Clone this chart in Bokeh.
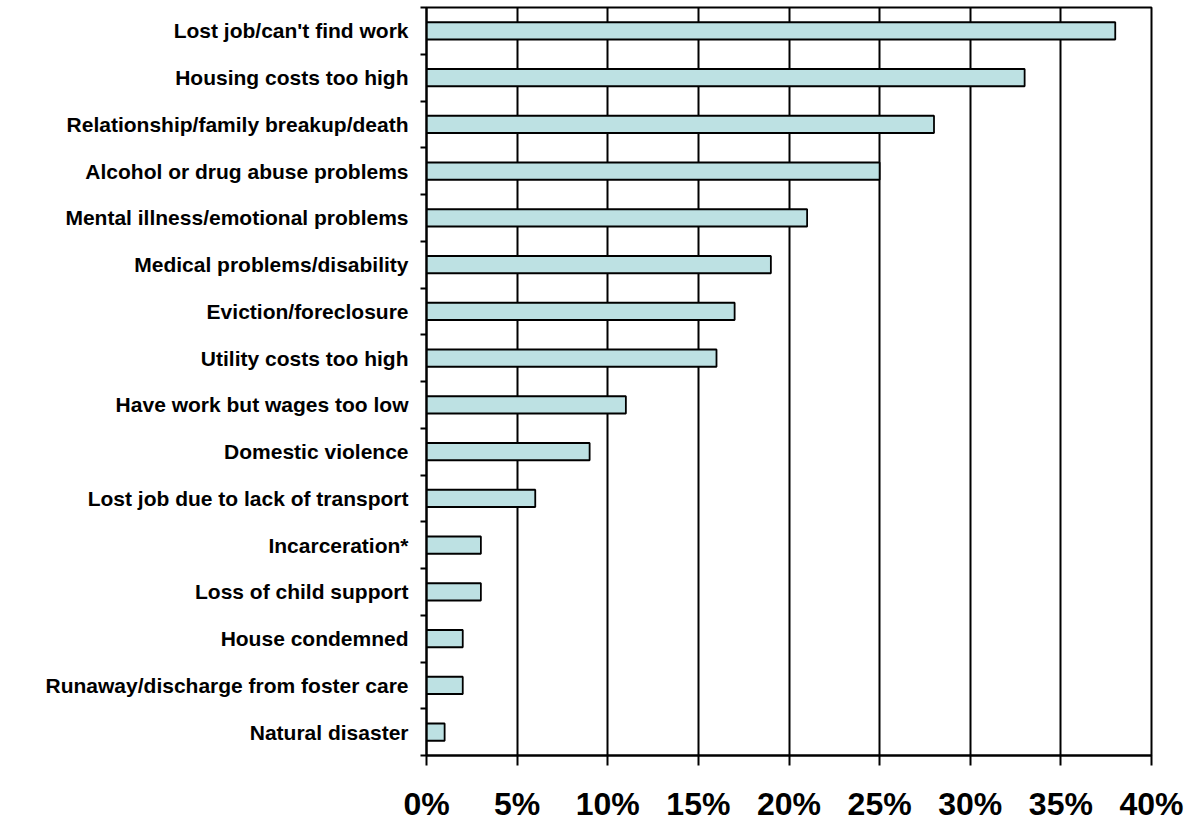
from bokeh.plotting import figure
from bokeh.models import FixedTicker, Range1d, ColumnDataSource
from bokeh.embed import file_html
from bokeh.resources import INLINE

categories = [
    "Lost job/can't find work",
    "Housing costs too high",
    "Relationship/family breakup/death",
    "Alcohol or drug abuse problems",
    "Mental illness/emotional problems",
    "Medical problems/disability",
    "Eviction/foreclosure",
    "Utility costs too high",
    "Have work but wages too low",
    "Domestic violence",
    "Lost job due to lack of transport",
    "Incarceration*",
    "Loss of child support",
    "House condemned",
    "Runaway/discharge from foster care",
    "Natural disaster",
]
values = [38, 33, 28, 25, 21, 19, 17, 16, 11, 9, 6, 3, 3, 2, 2, 1]
x_ticks = [0, 5, 10, 15, 20, 25, 30, 35, 40]
x_tick_labels = ["0%", "5%", "10%", "15%", "20%", "25%", "30%", "35%", "40%"]

n = len(categories)
ypos = [n - 1 - i for i in range(n)]
src = ColumnDataSource(dict(y=ypos, v=values, cat=categories))

p = figure(
    frame_width=725, frame_height=748,
    x_range=Range1d(0, 40), y_range=Range1d(-0.5, n - 0.5),
    output_backend="svg", toolbar_location=None,
    min_border_left=426, min_border_right=35, min_border_top=7, min_border_bottom=60,
)
p.outline_line_color = "black"
p.outline_line_width = 2
p.background_fill_color = "white"
p.border_fill_color = "white"

p.hbar(y="y", right="v", left=0, height=0.37, source=src,
       fill_color="#BDE1E3", line_color="black", line_width=1.8)

# x axis
p.xaxis.ticker = FixedTicker(ticks=x_ticks, minor_ticks=[])
p.xaxis.major_label_overrides = {t: l for t, l in zip(x_ticks, x_tick_labels)}
p.xaxis.major_label_text_font = "Liberation Sans"
p.xaxis.major_label_text_font_style = "bold"
p.xaxis.major_label_text_font_size = "32px"
p.xaxis.major_label_text_color = "black"
p.xaxis.major_tick_out = 10
p.xaxis.major_tick_in = 0
p.xaxis.major_tick_line_width = 2
p.xaxis.major_tick_line_color = "black"
p.xaxis.axis_line_width = 2
p.xaxis.axis_line_color = "black"
p.xaxis.major_label_standoff = 20

# y axis
p.yaxis.ticker = FixedTicker(ticks=ypos, minor_ticks=[i - 0.5 for i in range(n + 1)])
p.yaxis.major_label_overrides = {y: c for y, c in zip(ypos, categories)}
p.yaxis.major_label_text_font = "Liberation Sans"
p.yaxis.major_label_text_font_style = "bold"
p.yaxis.major_label_text_font_size = "21px"
p.yaxis.major_label_text_color = "black"
p.yaxis.major_tick_out = 0
p.yaxis.major_tick_in = 0
p.yaxis.minor_tick_out = 6
p.yaxis.minor_tick_in = 0
p.yaxis.minor_tick_line_width = 2
p.yaxis.minor_tick_line_color = "black"
p.yaxis.axis_line_width = 2
p.yaxis.axis_line_color = "black"
p.yaxis.major_label_standoff = 12

p.xgrid.ticker = FixedTicker(ticks=x_ticks)
p.xgrid.grid_line_color = "black"
p.xgrid.grid_line_width = 2
p.ygrid.grid_line_color = None

open("out.html", "w").write(file_html(p, INLINE))
